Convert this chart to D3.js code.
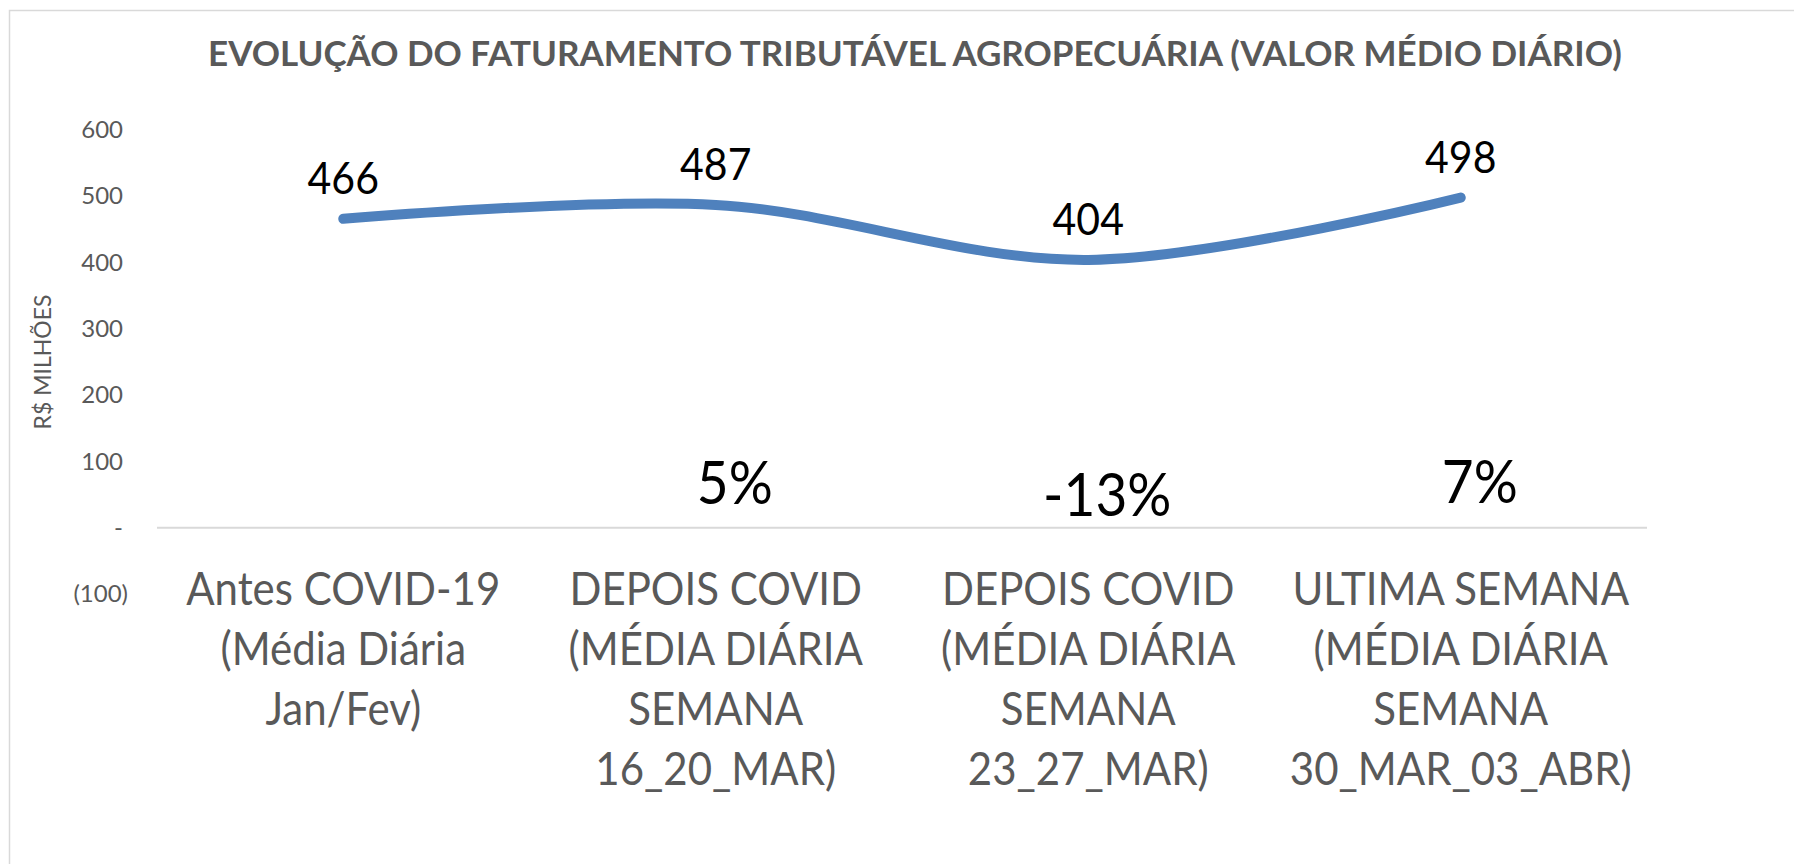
<!DOCTYPE html>
<html>
<head>
<meta charset="utf-8">
<script src="https://cdn.jsdelivr.net/npm/d3@7"></script>
<style>
  body { margin: 0; background: #fff; }
  svg { display: block; font-family: Lato, "Open Sans", sans-serif; }
</style>
</head>
<body>
<svg id="chart" width="1794" height="864"></svg>
<script>
// chart values
var categories = [
  "Antes COVID-19\n(Média Diária\nJan/Fev)",
  "DEPOIS COVID\n(MÉDIA DIÁRIA\nSEMANA\n16_20_MAR)",
  "DEPOIS COVID\n(MÉDIA DIÁRIA\nSEMANA\n23_27_MAR)",
  "ULTIMA SEMANA\n(MÉDIA DIÁRIA\nSEMANA\n30_MAR_03_ABR)"
];
var faturamento = [466, 487, 404, 498];
var variacao = [null, 5, -13, 7];          // % change vs. previous period
var variacaoLabels = [null, "5%", "-13%", "7%"];
var yTicks = [-100, 0, 100, 200, 300, 400, 500, 600];
var yTickLabels = ["(100)", "-", "100", "200", "300", "400", "500", "600"];
var title = "EVOLUÇÃO DO FATURAMENTO TRIBUTÁVEL AGROPECUÁRIA (VALOR MÉDIO DIÁRIO)";
var yTitle = "R$ MILHÕES";

const width = 1794, height = 864;
const grey = "#595959";
const sy = 1.1;   // text in the original is a bit taller than wide

var svg = d3.select("#chart");

var x = d3.scalePoint()
    .domain(d3.range(categories.length))
    .range([157, 1647])
    .padding(0.5);

var y = d3.scaleLinear()
    .domain([-100, 600])
    .range([594, 130]);

// helper: put a text at (px,py) with a small vertical stretch
function place(sel, px, py) {
  return sel.attr("transform", function(d, i) {
    return "translate(" + px(d, i) + "," + py(d, i) + ") scale(1," + sy + ")";
  });
}

// chart area border
svg.append("rect")
    .attr("x", 9.5).attr("y", 10.5)
    .attr("width", width).attr("height", height)
    .attr("fill", "none")
    .attr("stroke", "#d9d9d9")
    .attr("stroke-width", 1.5);

// title
svg.append("text")
    .attr("x", 915).attr("y", 66)
    .attr("text-anchor", "middle")
    .attr("font-weight", "bold")
    .attr("font-size", 35)
    .attr("fill", grey)
    .text(title);

// y axis (labels only)
var yAxis = d3.axisLeft(y)
    .tickValues(yTicks)
    .tickFormat(function(d, i) { return yTickLabels[i]; })
    .tickSize(0)
    .tickPadding(0);

var gY = svg.append("g")
    .attr("transform", "translate(123,0)")
    .call(yAxis);
gY.select(".domain").remove();
gY.selectAll("text")
    .attr("font-family", "Lato, sans-serif")
    .attr("font-size", 24)
    .attr("fill", grey)
    .attr("dx", function(d) { return d < 0 ? 5 : 0; });

svg.append("text")
    .attr("transform", "translate(51,362) rotate(-90)")
    .attr("text-anchor", "middle")
    .attr("font-size", 23)
    .attr("fill", grey)
    .text(yTitle);

// zero line
svg.append("line")
    .attr("x1", x.range()[0]).attr("x2", x.range()[1])
    .attr("y1", y(0)).attr("y2", y(0))
    .attr("stroke", "#d9d9d9")
    .attr("stroke-width", 2);

// category labels
var cat = svg.append("g").selectAll("text")
    .data(categories)
    .enter().append("text")
    .attr("text-anchor", "middle")
    .attr("font-size", 42)
    .attr("fill", grey);
place(cat, function(d, i) { return x(i); }, function() { return 605; });
cat.selectAll("tspan")
    .data(function(d) { return d.split("\n"); })
    .enter().append("tspan")
    .attr("x", 0)
    .attr("y", function(d, i) { return i * 60 / sy; })
    .text(function(d) { return d; });

// smoothed line
var line = d3.line()
    .x(function(d, i) { return x(i); })
    .y(function(d) { return y(d); })
    .curve(d3.curveCardinal.tension(0));

svg.append("path")
    .datum(faturamento)
    .attr("fill", "none")
    .attr("stroke", "#4f81bd")
    .attr("stroke-width", 10)
    .attr("stroke-linecap", "round")
    .attr("stroke-linejoin", "round")
    .attr("d", line);

// value labels
var vl = svg.append("g").selectAll("text")
    .data(faturamento)
    .enter().append("text")
    .attr("text-anchor", "middle")
    .attr("font-size", 41)
    .attr("fill", "#000")
    .text(function(d) { return d3.format("d")(d); });
place(vl, function(d, i) { return x(i); }, function(d) { return y(d) - 25; });

// % change labels (hidden series, labels above)
var pl = svg.append("g").selectAll("text")
    .data(variacao.map(function(v, i) { return {v: v, i: i, t: variacaoLabels[i]}; })
                  .filter(function(d) { return d.v !== null; }))
    .enter().append("text")
    .attr("text-anchor", "middle")
    .attr("font-size", 55)
    .attr("fill", "#000")
    .text(function(d) { return d.t; });
place(pl, function(d) { return x(d.i) + 19; }, function(d) { return y(d.v) - 20; });
</script>
</body>
</html>
